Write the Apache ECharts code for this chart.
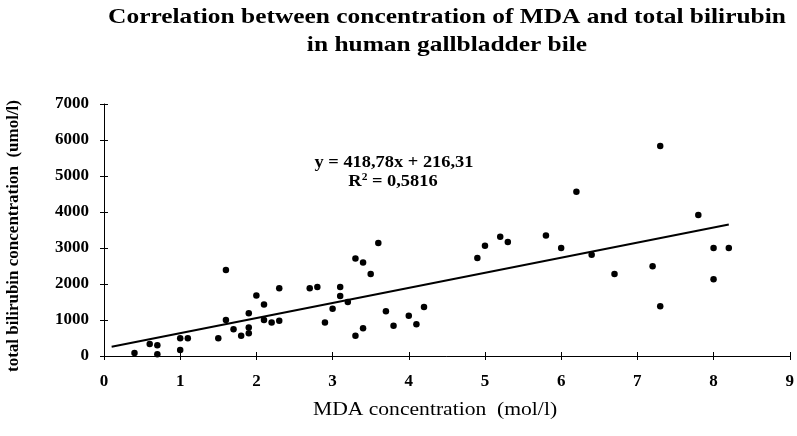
<!DOCTYPE html>
<html>
<head>
<meta charset="utf-8">
<script src="https://cdn.jsdelivr.net/npm/echarts@6/dist/echarts.min.js"></script>
<style>
  html, body { margin: 0; padding: 0; background: #fff; }
  #chart { width: 797px; height: 436px; }
</style>
</head>
<body>
<div id="chart"></div>
<script>
// MDA concentration (mol/l) and total bilirubin (umol/l)
const mdaValues = [
  0.4, 0.6, 0.7, 0.7, 1.0, 1.1, 1.0, 1.5, 1.6, 1.6,
  1.7, 1.8, 1.9, 1.9, 1.9, 2.0, 2.1, 2.1, 2.2, 2.3,
  2.3, 2.7, 2.8, 2.9, 3.0, 3.1, 3.1, 3.2, 3.3, 3.4,
  3.5, 3.6, 3.3, 3.4, 3.7, 3.8, 4.0, 4.1, 4.2, 4.9,
  5.0, 5.2, 5.3, 5.8, 6.0, 6.2, 6.4, 6.7, 7.2, 7.3,
  7.3, 7.8, 8.0, 8.2, 8.0
];
const bilirubinValues = [
  80, 330, 300, 50, 490, 490, 170, 490, 2390, 1000,
  740, 560, 1190, 790, 630, 1680, 1430, 1000, 930, 1880,
  980, 1880, 1920, 930, 1310, 1920, 1670, 1500, 2710, 2600,
  2280, 3140, 560, 770, 1240, 840, 1120, 880, 1360, 2720,
  3060, 3310, 3170, 3350, 3000, 4560, 2810, 2280, 2490, 5830,
  1380, 3920, 3000, 3000, 2130
];

// trend line ends, as drawn
const trendX = [0.1, 8.2];
const trendY = [258, 3650];

const xTicks = { min: 0, max: 9, interval: 1 };
const yTicks = { min: 0, max: 7000, interval: 1000 };

const titleLines = [
  'Correlation between concentration of MDA and total bilirubin',
  'in human gallbladder bile'
];
const xAxisName = 'MDA concentration  (mol/l)';
const yAxisName = 'total bilirubin concentration  (umol/l)';
const equationText = 'y = 418,78x + 216,31';
const rSquaredValue = '0,5816';

const serif = "'Liberation Serif', 'DejaVu Serif', serif";

const chart = echarts.init(document.getElementById('chart'));

const points = mdaValues.map((x, i) => [x, bilirubinValues[i]]);
const trend = trendX.map((x, i) => [x, trendY[i]]);

const tickLabel = { color: '#000', fontFamily: serif, fontWeight: 'bold', fontSize: 17 };

// the original text is a wide, stretched Times; scaleX mimics that
function label(text, x, y, font, sx, extra) {
  return Object.assign({
    type: 'text',
    x: x, y: y,
    scaleX: sx,
    style: {
      text: text, fill: '#000', font: font,
      align: 'center', verticalAlign: 'middle'
    }
  }, extra || {});
}

chart.setOption({
  backgroundColor: '#fff',
  animation: false,
  grid: { left: 104, right: 3, top: 104, bottom: 80 },
  xAxis: [
    {
      type: 'value',
      min: xTicks.min, max: xTicks.max, interval: xTicks.interval,
      axisLine: { show: true, onZero: false, lineStyle: { color: '#000', width: 1 } },
      axisTick: { show: true, length: 4, lineStyle: { color: '#000' } },
      axisLabel: Object.assign({ margin: 17 }, tickLabel),
      splitLine: { show: false }
    },
    {
      type: 'value',
      min: xTicks.min, max: xTicks.max, interval: xTicks.interval,
      position: 'bottom',
      axisLine: { show: false, onZero: false },
      axisTick: { show: true, inside: true, length: 4, lineStyle: { color: '#000' } },
      axisLabel: { show: false },
      splitLine: { show: false }
    }
  ],
  yAxis: [
    {
      type: 'value',
      min: yTicks.min, max: yTicks.max, interval: yTicks.interval,
      axisLine: { show: true, onZero: false, lineStyle: { color: '#000', width: 1 } },
      axisTick: { show: true, length: 4, lineStyle: { color: '#000' } },
      axisLabel: Object.assign({ margin: 15, formatter: v => String(v) }, tickLabel),
      splitLine: { show: false }
    },
    {
      type: 'value',
      min: yTicks.min, max: yTicks.max, interval: yTicks.interval,
      position: 'left',
      axisLine: { show: false, onZero: false },
      axisTick: { show: true, inside: true, length: 4, lineStyle: { color: '#000' } },
      axisLabel: { show: false },
      splitLine: { show: false }
    }
  ],
  series: [
    {
      type: 'line',
      data: trend,
      symbol: 'none',
      lineStyle: { color: '#000', width: 2 },
      z: 2
    },
    {
      type: 'scatter',
      data: points,
      symbol: 'circle',
      symbolSize: 6.5,
      itemStyle: { color: '#000', opacity: 1 },
      z: 3
    }
  ],
  graphic: [
    label(titleLines[0], 447, 18, 'bold 21px ' + serif, 1.21),
    label(titleLines[1], 447, 46, 'bold 21px ' + serif, 1.21),
    label(xAxisName, 435, 410, '18px ' + serif, 1.2),
    label(yAxisName, 14, 236, 'bold 17px ' + serif, 1.0, { rotation: Math.PI / 2 }),
    label(equationText, 394, 163, 'bold 16px ' + serif, 1.15),
    {
      type: 'text',
      x: 393, y: 182,
      scaleX: 1.15,
      style: {
        text: 'R{sup|2} = ' + rSquaredValue,
        fill: '#000',
        font: 'bold 16px ' + serif,
        align: 'center', verticalAlign: 'middle',
        rich: {
          sup: { font: 'bold 10px ' + serif, fill: '#000', padding: [0, 0, 10, 0] }
        }
      }
    }
  ]
});
</script>
</body>
</html>
